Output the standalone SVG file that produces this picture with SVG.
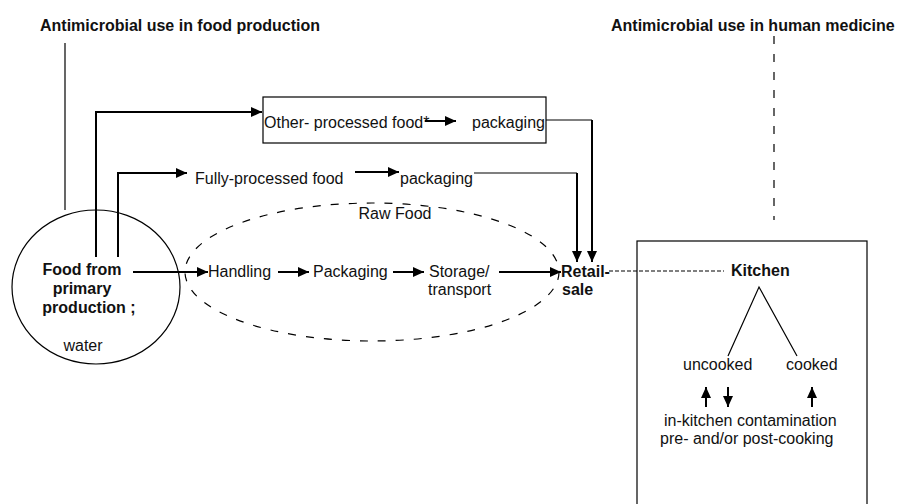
<svg xmlns="http://www.w3.org/2000/svg" width="899" height="504" viewBox="0 0 899 504">
<defs>
<marker id="ah" markerUnits="userSpaceOnUse" markerWidth="12" markerHeight="10" refX="11" refY="5" orient="auto">
<path d="M0,0 L11,5 L0,10 z" fill="#000"/>
</marker>
<style>
text{font-family:"Liberation Sans",Arial,sans-serif;font-size:16px;fill:#111}
.b{font-weight:bold}
.c{text-anchor:middle}
.ln{fill:none;stroke:#000;stroke-width:1.2}
.ar{fill:none;stroke:#000;stroke-width:2;marker-end:url(#ah)}
.dash{fill:none;stroke:#000;stroke-width:1.2;stroke-dasharray:8 10}
</style>
</defs>
<rect width="899" height="504" fill="#fff"/>
<g id="title-food"><text class="b" x="40" y="31">Antimicrobial use in food production</text></g>
<g id="title-human"><text class="b" x="611" y="31">Antimicrobial use in human medicine</text></g>
<g id="primary">
<ellipse cx="96" cy="287" rx="84" ry="77" class="ln"/>
<text class="b c" x="82" y="275">Food from</text>
<text class="b c" x="82" y="294">primary</text>
<text class="b c" x="89" y="313">production ;</text>
<text class="c" x="83" y="351">water</text>
</g>
<g id="raw-food">
<ellipse cx="372" cy="272" rx="187" ry="69" class="dash" stroke-dasharray="9 6"/>
<text class="c" x="395" y="219">Raw Food</text>
</g>
<g id="other-processed">
<rect x="263" y="97" width="283" height="46" class="ln"/>
<text x="264" y="128">Other- processed food*</text>
<text x="472" y="128">packaging</text>
</g>
<g id="fully-processed">
<text x="195" y="184">Fully-processed food</text>
<text x="400" y="184">packaging</text>
</g>
<g id="handling"><text x="208" y="277">Handling</text></g>
<g id="packaging"><text x="313" y="277">Packaging</text></g>
<g id="storage"><text x="429" y="277">Storage/</text><text x="428" y="295">transport</text></g>
<g id="retail"><text class="b" x="561" y="277">Retail-</text><text class="b" x="562" y="295">sale</text></g>
<g id="kitchen">
<rect x="637" y="241" width="230" height="280" class="ln"/>
<text class="b" x="731" y="276">Kitchen</text>
<text x="683" y="370">uncooked</text>
<text x="786" y="370">cooked</text>
<text x="664" y="426">in-kitchen contamination</text>
<text x="660" y="444">pre- and/or post-cooking</text>
</g>
<g id="connectors">
<path class="ln" d="M65,43 V210"/>
<path class="dash" d="M774,36 V220"/>
<path class="ar" d="M96,257 V112 H262"/>
<path class="ar" d="M118,257 V173 H187"/>
<path class="ar" d="M133,272 H208"/>
<path class="ar" d="M278,272 H309"/>
<path class="ar" d="M393,272 H424"/>
<path class="ar" d="M499,272 H561"/>
<path class="ar" d="M425,121 H456"/>
<path class="ar" d="M355,172 H399"/>
<path class="ln" d="M546,120 H592"/>
<path class="ar" d="M592,120 V262"/>
<path class="ln" d="M474,173 H577"/>
<path class="ar" d="M577,173 V262"/>
<path class="ln" d="M609,271 H724" stroke-dasharray="4 2"/>
<path class="ln" d="M728,356 L759,287 L797,356"/>
<path class="ar" d="M706,407 V387"/>
<path class="ar" d="M728,387 V407"/>
<path class="ar" d="M812,407 V387"/>
</g>
</svg>
